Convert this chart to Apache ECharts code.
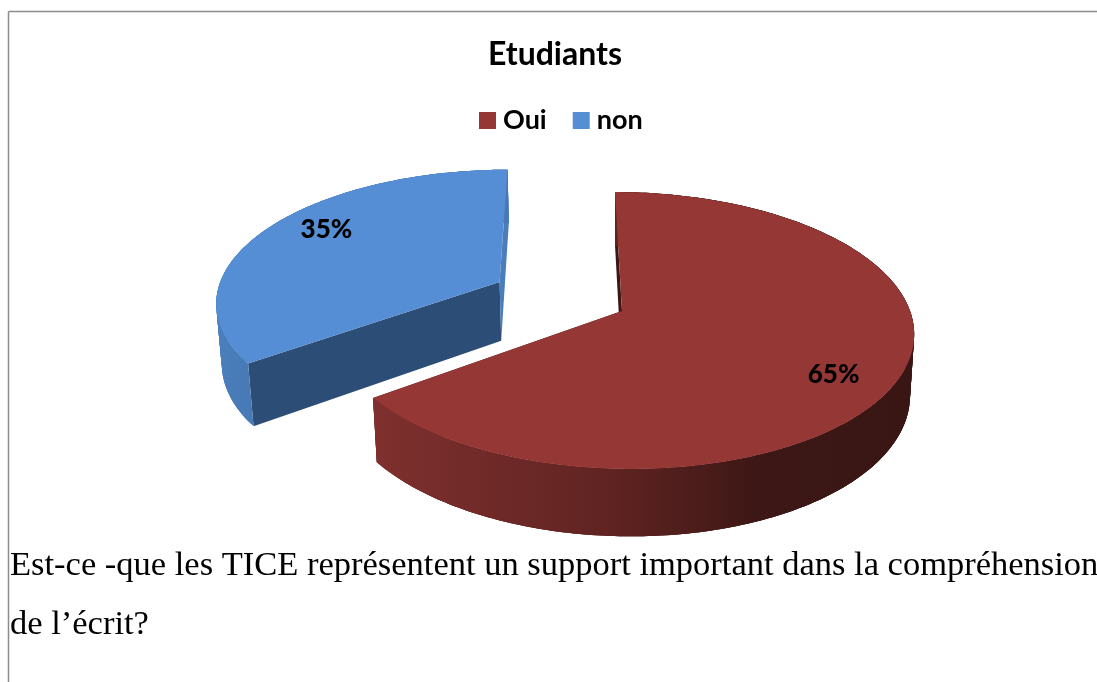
<!DOCTYPE html>
<html>
<head>
<meta charset="utf-8">
<style>html,body{margin:0;padding:0;background:#fff;overflow:hidden}#c{width:1097px;height:682px}</style>
<script src="https://cdn.jsdelivr.net/npm/echarts@6/dist/echarts.min.js"></script>
</head>
<body>
<div id="c"></div>
<script>
var categories = ['Oui', 'non'];
var values = [65, 35];
var titleText = 'Etudiants';
var bodyLines = ['Est-ce -que les TICE représentent un support important dans la compréhension', 'de l’écrit?'];
var topColors = ['#953735', '#558ed5'];
var explode = [0, 0.485];

var total = values.reduce(function (a, b) { return a + b; }, 0);
var toRad = Math.PI / 180;
var startAngles = [], acc = 0;
values.forEach(function (v) { startAngles.push(acc / total * 360); acc += v; });

// Perspective view of the pie plane
var O = { x: 622, y: 311, b: 288, c: 8, a: 135.7, p: 0.141, d: 61, q: 0.014 };
function project(X, Y, Z) {
  var w = 1 - O.p * Y + O.q * Z;
  return [O.x + (O.b * X + O.c * Y) / w, O.y + (O.a * Y + O.d * Z) / w];
}
function dir(deg) { return [Math.sin(deg * toRad), -Math.cos(deg * toRad)]; }

var sideFills = [
  new echarts.graphic.LinearGradient(375, 0, 910, 0, [
    { offset: 0, color: '#7e302e' }, { offset: 0.45, color: '#5f2321' },
    { offset: 0.72, color: '#3c1715' }, { offset: 1, color: '#391614' }
  ], true),
  new echarts.graphic.LinearGradient(216, 0, 255, 0, [
    { offset: 0, color: '#4b7fbd' }, { offset: 1, color: '#4679b4' }
  ], true)
];
var wallStart = ['#3a1614', '#2c4d75']; // wall on the slice's first edge
var wallEnd = ['#3a1614', '#4a7ebb'];   // wall on the slice's last edge

function renderSlice(idx) {
  return function () {
    var a0 = startAngles[idx], a1 = a0 + values[idx] / total * 360;
    var mid = (a0 + a1) / 2, md = dir(mid);
    var ox = md[0] * explode[idx], oy = md[1] * explode[idx];
    function P(deg, r, z) {
      var u = dir(deg);
      return project(ox + u[0] * r, oy + u[1] * r, z);
    }
    var topArc = [], botArc = [];
    for (var t = a0; t < a1; t += 1) { topArc.push(P(t, 1, 0)); botArc.push(P(t, 1, 1)); }
    topArc.push(P(a1, 1, 0)); botArc.push(P(a1, 1, 1));
    var apexT = project(ox, oy, 0), apexB = project(ox, oy, 1);
    var lab = P(mid + 6, 0.8, 0);
    function poly(points, fill) {
      return { type: 'polygon', shape: { points: points }, style: { fill: fill, stroke: null } };
    }
    var children = [
      poly([apexT, topArc[0], botArc[0], apexB], wallStart[idx]),
      poly([apexT, topArc[topArc.length - 1], botArc[botArc.length - 1], apexB], wallEnd[idx])
    ];
    // overlapping strips of the outer wall, so that no seams show between them
    for (var i = 0; i < topArc.length - 1; i++) {
      var j = Math.min(i + 3, topArc.length - 1);
      children.push(poly(topArc.slice(i, j + 1).concat(botArc.slice(i, j + 1).reverse()), sideFills[idx]));
    }
    children.push(poly([apexT].concat(topArc), topColors[idx]));
    children.push({
      type: 'text', x: lab[0] + (idx === 0 ? 2 : 0), y: lab[1] + (idx === 0 ? 1 : 0),
      style: {
        text: Math.round(values[idx] / total * 100) + '%',
        fill: '#000', font: '900 26px Lato', align: 'center', verticalAlign: 'middle'
      }
    });
    return { type: 'group', children: children };
  };
}

var chart = echarts.init(document.getElementById('c'), null, { renderer: 'canvas' });
chart.setOption({
  animation: false,
  backgroundColor: '#fff',
  title: {
    text: titleText, left: 550, top: 34, textAlign: 'center',
    textStyle: { fontFamily: 'Lato', fontWeight: 'bold', fontSize: 32, color: '#000' }
  },
  legend: {
    data: categories, left: 474, top: 102, icon: 'rect', itemWidth: 17, itemHeight: 17, itemGap: 26,
    textStyle: { fontFamily: 'Lato', fontWeight: 'bold', fontSize: 27, color: '#000', padding: [0, 0, 0, 2] }
  },
  series: categories.map(function (name, i) {
    return {
      type: 'custom', name: name, coordinateSystem: 'none', silent: true,
      itemStyle: { color: topColors[i] },
      renderItem: renderSlice(i),
      data: [values[i]]
    };
  }),
  graphic: [
    { type: 'line', shape: { x1: 8.5, y1: 11.5, x2: 1097, y2: 11.5 }, style: { stroke: '#8c8c8c', lineWidth: 1.5 }, silent: true },
    { type: 'line', shape: { x1: 8.5, y1: 11.5, x2: 8.5, y2: 682 }, style: { stroke: '#8c8c8c', lineWidth: 1.5 }, silent: true },
    { type: 'text', x: 10, y: 548, silent: true, style: { text: bodyLines[0], font: '34.5px "Liberation Serif"', fill: '#000' } },
    { type: 'text', x: 10, y: 607, silent: true, style: { text: bodyLines[1], font: '34.5px "Liberation Serif"', fill: '#000' } }
  ]
});
</script>
</body>
</html>
